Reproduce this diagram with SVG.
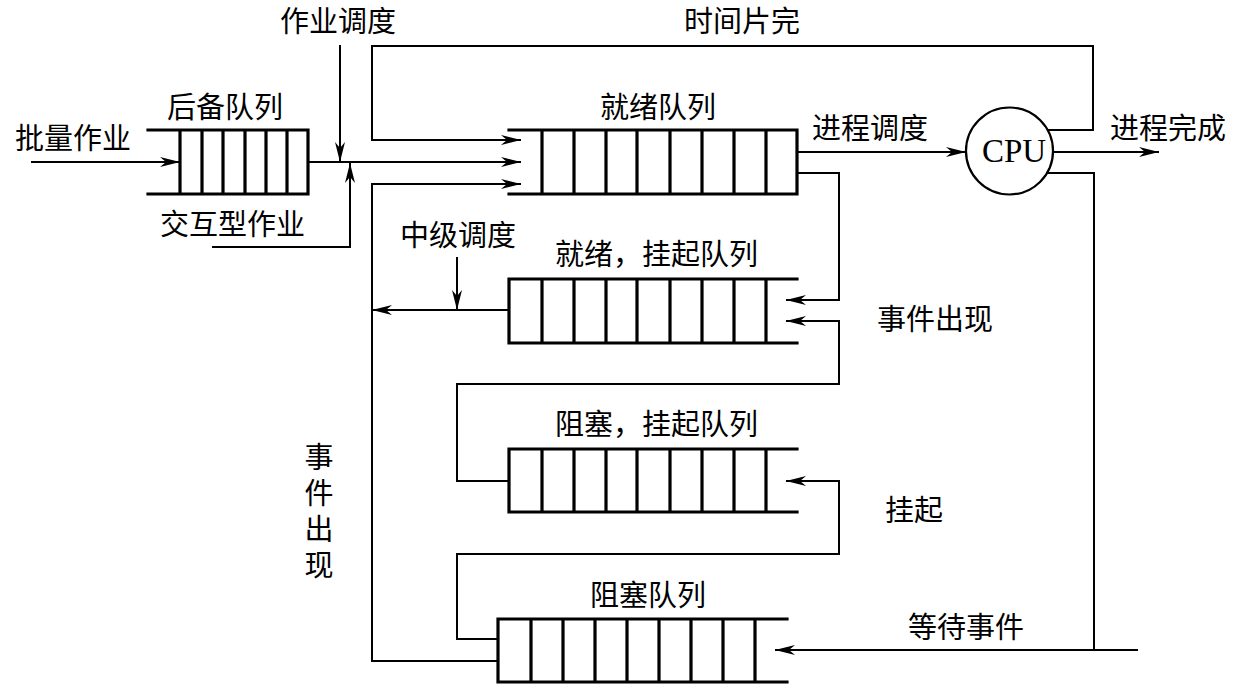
<svg xmlns="http://www.w3.org/2000/svg" width="1234" height="699" viewBox="0 0 1234 699">
<style>
.q{stroke:#000;stroke-width:3.2;fill:none;stroke-linecap:square}
.c{stroke:#000;stroke-width:2;fill:none}
.a{marker-end:url(#ah)}
.t{font-family:"Noto Sans CJK SC","Noto Sans CJK JP",sans-serif;font-size:29px;fill:#000}
.v{writing-mode:vertical-rl;letter-spacing:7px}
.cpu{font-family:"Liberation Serif",serif;font-size:33px;fill:#000}
</style>
<defs>
<marker id="ah" viewBox="0 0 20 10" refX="20" refY="5" markerWidth="20" markerHeight="10" markerUnits="userSpaceOnUse" orient="auto">
<path d="M0,0 L20,5 L0,10 L6,5 z" fill="#000"/>
</marker>
</defs>
<rect width="1234" height="699" fill="#fff"/>

<g id="backup-queue">
<path class="q" d="M148,130 H308 M148,194 H308 M180,130 V194 M202,130 V194 M223,130 V194 M245,130 V194 M266,130 V194 M287,130 V194 M308,130 V194"/>
<text class="t" x="167" y="118">后备队列</text>
</g>

<g id="ready-queue">
<path class="q" d="M509,130 H797 M509,194 H797 M542,130 V194 M574,130 V194 M606,130 V194 M637,130 V194 M670,130 V194 M702,130 V194 M734,130 V194 M766,130 V194 M797,130 V194"/>
<text class="t" x="600" y="118">就绪队列</text>
</g>

<g id="cpu">
<circle cx="1009.5" cy="151" r="43.5" fill="none" stroke="#000" stroke-width="2.2"/>
<text class="cpu" x="1014" y="162" text-anchor="middle">CPU</text>
</g>

<g id="ready-suspend-queue">
<path class="q" d="M509,279 H797 M509,343 H797 M509,279 V343 M542,279 V343 M574,279 V343 M606,279 V343 M637,279 V343 M670,279 V343 M702,279 V343 M734,279 V343 M766,279 V343"/>
<text class="t" x="555" y="265">就绪，挂起队列</text>
</g>

<g id="blocked-suspend-queue">
<path class="q" d="M509,449 H797 M509,512 H797 M509,449 V512 M542,449 V512 M574,449 V512 M606,449 V512 M637,449 V512 M670,449 V512 M702,449 V512 M734,449 V512 M766,449 V512"/>
<text class="t" x="555" y="435">阻塞，挂起队列</text>
</g>

<g id="blocked-queue">
<path class="q" d="M498,619 H787 M498,682 H787 M498,619 V682 M531,619 V682 M563,619 V682 M595,619 V682 M627,619 V682 M659,619 V682 M691,619 V682 M723,619 V682 M755,619 V682"/>
<text class="t" x="590" y="606">阻塞队列</text>
</g>

<g id="connectors">
<path class="c a" d="M31,162 H180"/>
<path class="c a" d="M308,162 H521"/>
<path class="c a" d="M340,45 V162"/>
<path class="c a" d="M212,247 H350 V163"/>
<path class="c a" d="M1047,130 H1093 V46 H372 V140 H521"/>
<path class="c a" d="M797,152 H966"/>
<path class="c a" d="M1053,152 H1159"/>
<path class="c a" d="M797,173 H839 V300 H786"/>
<path class="c" d="M1047,173 H1094 V650"/>
<path class="c a" d="M1138,650 H775"/>
<path class="c a" d="M509,310 H372"/>
<path class="c a" d="M457,257 V310"/>
<path class="c a" d="M509,481 H457 V384 H839 V321 H786"/>
<path class="c a" d="M498,639 H457 V554 H839 V481 H786"/>
<path class="c a" d="M498,661 H372 V184 H521"/>
</g>

<g id="labels">
<text class="t" x="280" y="32">作业调度</text>
<text class="t" x="684" y="32">时间片完</text>
<text class="t" x="15" y="149">批量作业</text>
<text class="t" x="160" y="235">交互型作业</text>
<text class="t" x="812" y="139">进程调度</text>
<text class="t" x="1110" y="139">进程完成</text>
<text class="t" x="400" y="246">中级调度</text>
<text class="t" x="877" y="330">事件出现</text>
<text class="t" x="885" y="521">挂起</text>
<text class="t" x="908" y="638">等待事件</text>
<text class="t v" x="319" y="442">事件出现</text>
</g>
</svg>
